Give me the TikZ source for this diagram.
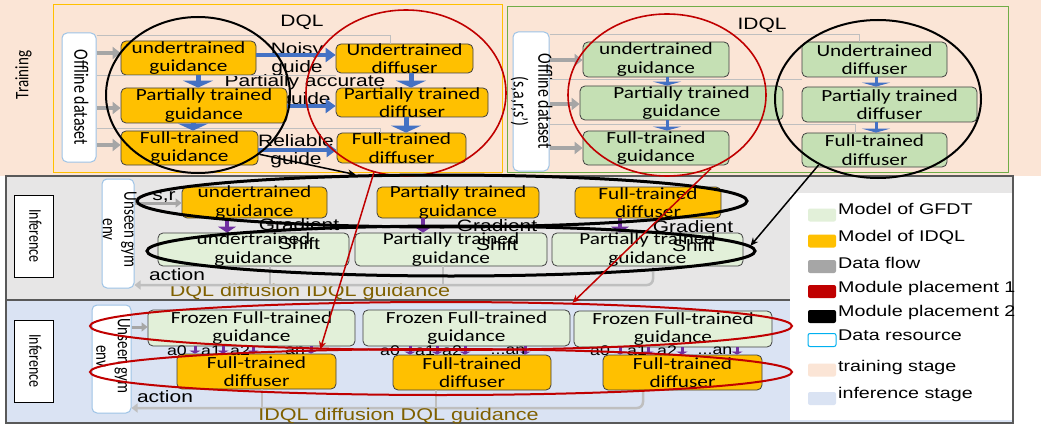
\documentclass[tikz,border=0pt]{standalone}
\usepackage{fontspec}
\usepackage{graphicx}
\setmainfont{Carlito}
\newfontfamily\boxfont{Carlito}[FakeStretch=1.25]
\newfontfamily\labfont{Liberation Sans}[FakeStretch=1.27]
\usetikzlibrary{arrows.meta,shapes.geometric}
\newcommand{\stretchup}[1]{\scalebox{1}[1.27]{\begin{tabular}{@{}c@{}}#1\end{tabular}}}
\definecolor{peach}{HTML}{FBE5D6}
\definecolor{gold}{HTML}{FFC000}
\definecolor{leaf}{HTML}{C5E0B4}
\definecolor{mint}{HTML}{E2F0D9}
\definecolor{steel}{HTML}{4472C4}
\definecolor{plum}{HTML}{7030A0}
\definecolor{ash}{HTML}{A6A6A6}
\definecolor{haze}{HTML}{BFBFBF}
\definecolor{crimson}{HTML}{C00000}
\definecolor{ochre}{HTML}{7F6000}
\definecolor{fog}{HTML}{E7E6E6}
\definecolor{ice}{HTML}{DAE3F3}
\definecolor{sky}{HTML}{9DC3E6}
\definecolor{cyanedge}{HTML}{00B0F0}
\definecolor{grass}{HTML}{70AD47}
\begin{document}
\begin{tikzpicture}[x=1pt,y=-1pt,
model/.style={rectangle,rounded corners=5pt,draw=black!75,line width=0.8pt,inner sep=0pt},
idqlbox/.style={model,fill=gold},
gfdtbox/.style={model,fill=mint},
leafbox/.style={model,fill=leaf},
datasource/.style={rectangle,rounded corners=5pt,draw=sky,line width=1pt,fill=white,inner sep=0pt},
stagebox/.style={rectangle,draw=black,line width=0.8pt,fill=white,inner sep=0pt,minimum width=39pt,minimum height=82pt},
boxtext/.style={font=\boxfont\fontsize{17}{18.5}\selectfont,align=center,inner sep=0pt},
sidetext/.style={font=\fontsize{15}{17}\selectfont,rotate=-90,inner sep=0pt},
tag/.style={font=\labfont\fontsize{16.5}{18.5}\selectfont,align=center,inner sep=0pt},
actlabel/.style={font=\labfont\fontsize{14}{16}\selectfont,inner sep=0pt},
keytext/.style={font=\labfont\fontsize{15.5}{17}\selectfont,anchor=west,inner sep=0pt},
swatch/.style={rectangle,rounded corners=2pt,minimum width=28pt,minimum height=13pt,inner sep=0pt},
guidearrow/.style={steel,line width=4pt,-{Triangle[length=10pt,width=14pt]}},
stagearrow/.style={steel,line width=5pt,-{Triangle[length=7pt,width=30pt]}},
tinyarrow/.style={steel,line width=3pt,-{Triangle[length=4pt,width=28pt]}},
feedarrow/.style={ash,line width=4pt,-{Triangle[length=8pt,width=12pt]}},
sensearrow/.style={ash,line width=3pt,-{Triangle[length=6pt,width=9pt]}},
thinflow/.style={haze,line width=1pt},
retarrow/.style={haze,line width=2.5pt,rounded corners=6pt,-{Triangle[length=6pt,width=9pt]}},
rettick/.style={haze,line width=2.5pt},
gradarrow/.style={plum,line width=4pt,-{Triangle[length=6pt,width=18pt]}},
actarrow/.style={plum,line width=3pt,-{Triangle[length=3pt,width=11pt]}},
blackring/.style={ellipse,draw=black,line width=2pt,inner sep=0pt},
redring/.style={ellipse,draw=crimson,line width=1.6pt,inner sep=0pt},
blacklink/.style={black,line width=1.5pt,-{Stealth[length=8pt,width=7pt]}},
redlink/.style={crimson,line width=1.5pt,-{Stealth[length=8pt,width=7pt]}}]
\useasboundingbox (0,0) rectangle (1041,425);
\fill[peach] (0,0) rectangle (1041,176);
\draw[gold,line width=1pt] (53,5) rectangle (502,172);
\draw[grass,line width=1pt] (507,7) rectangle (1008,172);
\draw[fill=fog,draw=black!65,line width=1.5pt] (6,176) rectangle (1013,300);
\draw[fill=ice,draw=black!65,line width=1.5pt] (6,300) rectangle (1013,423);
\fill[white] (790,193) rectangle (1012,420);
\node[sidetext,rotate=180] (trainlabel) at (24,75) {\stretchup{Training}};
\node[tag] (dqltitle) at (302,22) {DQL};
\node[tag] (idqltitle) at (762,25) {IDQL};
\node[tag] (noisy) at (297,59) {Noisy\\guide};
\node[tag] (partial) at (305,91) {Partially accurate\\guide};
\node[tag] (reliable) at (296,151) {Reliable\\guide};
\node[datasource,minimum width=34pt,minimum height=129pt] (dqldata) at (79,97.5) {};
\node[sidetext,font=\fontsize{16}{18}\selectfont] at (dqldata) {\stretchup{Offline dataset}};
\node[idqlbox,minimum width=135pt,minimum height=34pt] (dqlug) at (188.5,58) {};
\node[idqlbox,minimum width=166pt,minimum height=35pt] (dqlpg) at (204,105.5) {};
\node[idqlbox,minimum width=137pt,minimum height=34pt] (dqlfg) at (189.5,148) {};
\node[idqlbox,minimum width=137pt,minimum height=29pt] (dqlud) at (404.5,58.5) {};
\node[idqlbox,minimum width=152pt,minimum height=29pt] (dqlpd) at (412,102.5) {};
\node[idqlbox,minimum width=129pt,minimum height=30pt] (dqlfd) at (401.5,148) {};
\node[boxtext] at (dqlug) {undertrained\\guidance};
\node[boxtext] at (dqlpg) {Partially trained\\guidance};
\node[boxtext] at (dqlfg) {Full-trained\\guidance};
\node[boxtext] at (dqlud) {Undertrained\\diffuser};
\node[boxtext] at (dqlpd) {Partially trained\\diffuser};
\node[boxtext] at (dqlfd) {Full-trained\\diffuser};
\draw[thinflow] (dqldata.east |- 0,36) -| (dqlud.north -| 390,0);
\draw[thinflow] (dqldata.east |- 0,76) -- (dqlpd.west |- 0,76);
\draw[thinflow] (dqldata.east |- 0,129) -| (dqlfd.north -| 380,0);
\draw[feedarrow] (dqldata.east |- 0,53) -- (dqlug.west |- 0,53);
\draw[feedarrow] (dqldata.east |- 0,108) -- (dqlpg.west |- 0,108);
\draw[feedarrow] (dqldata.east |- 0,145) -- (dqlfg.west |- 0,145);
\draw[guidearrow] (dqlug.east |- 0,55) -- (dqlud.west |- 0,55);
\draw[guidearrow] (dqlpg.east |- 0,106) -- (dqlpd.west |- 0,106);
\draw[guidearrow] (dqlfg.east |- 0,150) -- (dqlfd.west |- 0,150);
\draw[stagearrow] (dqlug.south -| 198,0) -- (dqlpg.north -| 198,0);
\draw[stagearrow] (dqlpg.south -| 193,0) -- (dqlfg.north -| 193,0);
\draw[stagearrow] (dqlud.south -| 411,0) -- (dqlpd.north -| 411,0);
\draw[stagearrow] (dqlpd.south -| 406,0) -- (dqlfd.north -| 406,0);
\node[datasource,minimum width=36pt,minimum height=139pt] (idqldata) at (531,101.5) {};
\node[sidetext,font=\fontsize{16}{19.5}\selectfont] at (idqldata) {\stretchup{Offline dataset\\(s,a,r,s’)}};
\node[leafbox,minimum width=146pt,minimum height=35pt] (idqlug) at (656,59.5) {};
\node[leafbox,minimum width=203pt,minimum height=34pt] (idqlpg) at (681.5,103) {};
\node[leafbox,minimum width=146pt,minimum height=34pt] (idqlfg) at (656,148) {};
\node[leafbox,minimum width=145pt,minimum height=35pt] (idqlud) at (874.5,59.5) {};
\node[leafbox,minimum width=175pt,minimum height=35pt] (idqlpd) at (889.5,104.5) {};
\node[leafbox,minimum width=145pt,minimum height=34pt] (idqlfd) at (874.5,150) {};
\node[boxtext] at (idqlug) {undertrained\\guidance};
\node[boxtext] at (idqlpg) {Partially trained\\guidance};
\node[boxtext] at (idqlfg) {Full-trained\\guidance};
\node[boxtext] at (idqlud) {Undertrained\\diffuser};
\node[boxtext] at (idqlpd) {Partially trained\\diffuser};
\node[boxtext] at (idqlfd) {Full-trained\\diffuser};
\draw[thinflow] (idqldata.east |- 0,35) -| (idqlud.north -| 859,0);
\draw[thinflow] (idqldata.east |- 0,80) -- (idqlpd.west |- 0,80);
\draw[thinflow] (idqldata.east |- 0,125) -| (idqlfd.north -| 855,0);
\draw[feedarrow] (idqldata.east |- 0,60) -- (idqlug.west |- 0,60);
\draw[feedarrow] (idqldata.east |- 0,104) -- (idqlpg.west |- 0,104);
\draw[feedarrow] (idqldata.east |- 0,148) -- (idqlfg.west |- 0,148);
\draw[tinyarrow] (idqlug.south -| 667,0) -- (idqlpg.north -| 667,0);
\draw[tinyarrow] (idqlpg.south -| 667,0) -- (idqlfg.north -| 667,0);
\draw[tinyarrow] (idqlud.south -| 876,0) -- (idqlpd.north -| 876,0);
\draw[tinyarrow] (idqlpd.south -| 876,0) -- (idqlfd.north -| 876,0);
\node[stagebox] (infa) at (33.5,236) {};
\node[sidetext,font=\fontsize{14}{16}\selectfont] at (infa) {\stretchup{Inference}};
\node[datasource,minimum width=32pt,minimum height=109pt] (enva) at (118,233.5) {};
\node[sidetext,xshift=-4pt] at (enva) {\stretchup{Unseen gym\\env}};
\node[idqlbox,minimum width=145pt,minimum height=31pt] (infaug) at (254.5,202.5) {};
\node[idqlbox,minimum width=162pt,minimum height=31pt] (infapg) at (458,202.5) {};
\node[idqlbox,minimum width=146pt,minimum height=31pt] (infafd) at (648,202.5) {};
\node[gfdtbox,minimum width=191pt,minimum height=33pt] (infbug) at (253.5,249.5) {};
\node[gfdtbox,minimum width=192pt,minimum height=33pt] (infbpg) at (451,249.5) {};
\node[gfdtbox,minimum width=191pt,minimum height=33pt] (infbpgx) at (647.5,249.5) {};
\node[boxtext] at (infaug) {undertrained\\guidance};
\node[boxtext] at (infapg) {Partially trained\\guidance};
\node[boxtext] at (infafd) {Full-trained\\diffuser};
\node[boxtext] at (infbug) {undertrained\\guidance};
\node[boxtext] at (infbpg) {Partially trained\\guidance};
\node[boxtext] at (infbpgx) {Partially trained\\guidance};
\node[tag] (grada) at (299,234) {Gradient\\Shift};
\node[tag] (gradb) at (497,235) {Gradient\\Shift};
\node[tag] (gradc) at (693,236) {Gradient\\Shift};
\node[tag] (sra) at (164,197) {s,r};
\node[tag] (acta) at (177,275) {action};
\node[tag,text=ochre,font=\labfont\fontsize{17}{19}\selectfont] (mixa) at (310,292) {DQL diffusion IDQL guidance};
\draw[sensearrow] (enva.east |- 0,203) -- (infaug.west |- 0,203);
\draw[gradarrow] (infaug.south -| 227,0) -- (infbug.north -| 227,0);
\draw[gradarrow] (infapg.south -| 423,0) -- (infbpg.north -| 423,0);
\draw[gradarrow] (infafd.south -| 620,0) -- (infbpgx.north -| 620,0);
\draw[retarrow] (infbpgx.south -| 653,0) |- (enva.east |- 0,285);
\draw[rettick] (infbug.south -| 270,0) -- ++(0,19);
\draw[rettick] (infbpg.south -| 443,0) -- ++(0,19);
\node[stagebox] (infb) at (33.5,361) {};
\node[sidetext,font=\fontsize{14}{16}\selectfont] at (infb) {\stretchup{Inference}};
\node[datasource,minimum width=39pt,minimum height=108pt] (envb) at (111.5,359) {};
\node[sidetext,xshift=-3pt] at (envb) {\stretchup{Unseen gym\\env}};
\node[gfdtbox,minimum width=207pt,minimum height=36pt] (frza) at (251.5,328) {};
\node[gfdtbox,minimum width=207pt,minimum height=36pt] (frzb) at (466.5,328) {};
\node[gfdtbox,minimum width=198pt,minimum height=36pt] (frzc) at (673,329) {};
\node[idqlbox,minimum width=159pt,minimum height=35pt] (diffa) at (256.5,371.5) {};
\node[idqlbox,minimum width=158pt,minimum height=35pt] (diffb) at (472,372.5) {};
\node[idqlbox,minimum width=159pt,minimum height=35pt] (diffc) at (682.5,372.5) {};
\node[boxtext] at (frza) {Frozen Full-trained\\guidance};
\node[boxtext] at (frzb) {Frozen Full-trained\\guidance};
\node[boxtext] at (frzc) {Frozen Full-trained\\guidance};
\node[boxtext] at (diffa) {Full-trained\\diffuser};
\node[boxtext] at (diffb) {Full-trained\\diffuser};
\node[boxtext] at (diffc) {Full-trained\\diffuser};
\draw[sensearrow] (envb.east |- 0,327) -- (frza.west |- 0,327);
\draw[retarrow] (diffc.south -| 643,0) |- (envb.east |- 0,408);
\draw[rettick] (diffa.south -| 262,0) -- ++(0,19);
\draw[rettick] (diffb.south -| 436,0) -- ++(0,18);
\draw[actarrow] (frza.south -| 195,0) -- (diffa.north -| 195,0);
\draw[actarrow] (frza.south -| 223,0) -- (diffa.north -| 223,0);
\draw[actarrow] (frza.south -| 253,0) -- (diffa.north -| 253,0);
\draw[actarrow] (frza.south -| 311,0) -- (diffa.north -| 311,0);
\draw[actarrow] (frzb.south -| 410,0) -- (diffb.north -| 410,0);
\draw[actarrow] (frzb.south -| 437,0) -- (diffb.north -| 437,0);
\draw[actarrow] (frzb.south -| 465,0) -- (diffb.north -| 465,0);
\draw[actarrow] (frzb.south -| 525,0) -- (diffb.north -| 525,0);
\draw[actarrow] (frzc.south -| 620,0) -- (diffc.north -| 620,0);
\draw[actarrow] (frzc.south -| 648,0) -- (diffc.north -| 648,0);
\draw[actarrow] (frzc.south -| 682,0) -- (diffc.north -| 682,0);
\draw[actarrow] (frzc.south -| 737,0) -- (diffc.north -| 737,0);
\node[actlabel] at (177,351) {a0};
\node[actlabel] at (211,351) {a1};
\node[actlabel] at (240,351) {a2};
\node[actlabel] at (295,351) {an};
\node[actlabel] at (390,351) {a0};
\node[actlabel] at (425,351) {a1};
\node[actlabel] at (452,351) {a2};
\node[actlabel] at (508,351) {...an};
\node[actlabel] at (600,351) {a0};
\node[actlabel] at (637,351) {a1};
\node[actlabel] at (667,351) {a2};
\node[actlabel] at (715,351) {...an};
\node[tag] (actb) at (165,397) {action};
\node[tag,text=ochre,font=\labfont\fontsize{17}{19}\selectfont] (mixb) at (398.5,416) {IDQL diffusion DQL guidance};
\node[blackring,minimum width=184pt,minimum height=156pt] (dqltwo) at (198,95) {};
\node[redring,minimum width=200pt,minimum height=166pt] (dqlone) at (406,93) {};
\node[redring,minimum width=198pt,minimum height=162pt] (idqlone) at (667,95) {};
\node[blackring,minimum width=206pt,minimum height=158pt] (idqltwo) at (878,99) {};
\node[blackring,line width=3pt,minimum width=610pt,minimum height=52pt] (infatop) at (442,201) {};
\node[blackring,line width=3pt,minimum width=608pt,minimum height=50pt] (infabot) at (451,251) {};
\node[redring,line width=2pt,minimum width=702pt,minimum height=48pt] (infbtop) at (441,326) {};
\node[redring,line width=2pt,minimum width=702pt,minimum height=46pt] (infbbot) at (441,372) {};
\draw[blacklink] (dqltwo.-44) -- (infatop.163);
\draw[redlink] (dqlone.-112) -- (infbtop.191);
\draw[redlink] (idqlone.-59) -- (infbtop.10);
\draw[blacklink] (idqltwo.-132) -- (infabot.1.5);
\node[swatch,fill=mint] (keygfdt) at (822,215) {};
\node[keytext] at (838,209) {Model of GFDT};
\node[swatch,fill=gold] (keyidql) at (822,241) {};
\node[keytext] at (838,237) {Model of IDQL};
\node[swatch,fill=ash] (keyflow) at (822,266.5) {};
\node[keytext] at (838,263) {Data flow};
\node[swatch,fill=crimson] (keyone) at (822,291.5) {};
\node[keytext] at (838,288) {Module placement 1};
\node[swatch,fill=black] (keytwo) at (822,316.5) {};
\node[keytext] at (838,312) {Module placement 2};
\node[swatch,fill=white,draw=cyanedge,line width=1pt] (keydata) at (822,340) {};
\node[keytext] at (838,335) {Data resource};
\node[swatch,fill=peach] (keytrain) at (822,370) {};
\node[keytext] at (838,367) {training stage};
\node[swatch,fill=ice] (keyinfer) at (822,398.5) {};
\node[keytext] at (838,394) {inference stage};
\end{tikzpicture}
\end{document}
